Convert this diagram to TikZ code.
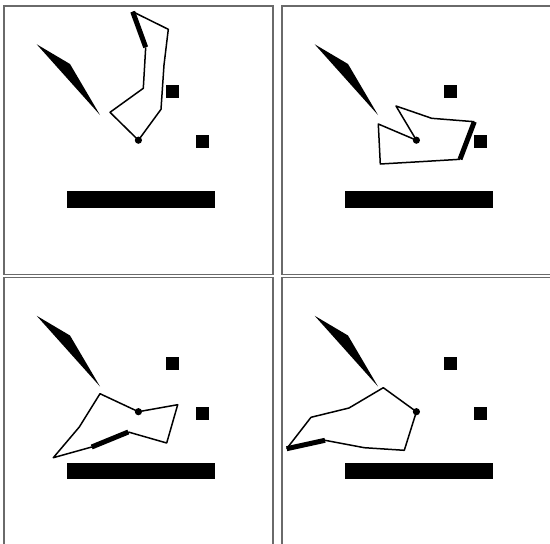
\documentclass[tikz,border=0pt]{standalone}
\usepackage{tikz}
\definecolor{FrameGray}{HTML}{6A6A6A}

\begin{document}
\begin{tikzpicture}[x=1pt,y=-1pt,
  panel/.style={draw=FrameGray,line width=1.3pt},
  block/.style={fill=black},
  link/.style={line width=1.5pt,line join=round},
  heavy/.style={line width=5pt},
  pivot/.style={fill=black}]
\useasboundingbox (0,0) rectangle (550,544);
\clip (0,0) rectangle (550,544);
\foreach \px/\py in {4/6,282/6,4/277.5,282/277.5}{
  \begin{scope}[shift={(\px,\py)}]
  \draw[panel] (0,0) rectangle (269,268.5);
  \fill[block] (32.7,38.3) -- (66,58) -- (96,109) -- cycle;
  \fill[block] (162,79) rectangle (175,92);
  \fill[block] (192,129) rectangle (205,142);
  \fill[block] (62.7,185) rectangle (211,201.7);
  \end{scope}
}
\coordinate (p1) at (138.4,140.2);
\coordinate (p2) at (416.4,140.2);
\coordinate (p3) at (138.4,411.7);
\coordinate (p4) at (416.4,411.7);
\draw[link] (p1) -- (110,112.3) -- (143.3,88.3) -- (145.7,47.3);
\draw[heavy] (145.7,47.3) -- (132.7,11.7);
\draw[link] (132.7,11.7) -- (168.3,29.3) -- (164,65) -- (161,109.3) -- (p1);
\draw[link] (p2) -- (396,106) -- (431.7,118.3) -- (474.3,121.7);
\draw[heavy] (474.3,121.7) -- (460,159.3);
\draw[link] (460,159.3) -- (420,161.7) -- (380.3,164) -- (378.3,124) -- (p2);
\draw[link] (p3) -- (100,393.7) -- (79.3,427) -- (53.3,457.7) -- (91.7,447);
\draw[heavy] (91.7,447) -- (128.3,432);
\draw[link] (128.3,432) -- (166.7,443) -- (177.7,404.7) -- (p3);
\draw[link] (p4) -- (383.3,387.7) -- (349,408) -- (311,417.3) -- (286.7,448.7);
\draw[heavy] (286.7,448.7) -- (325,440.3);
\draw[link] (325,440.3) -- (364.3,447.7) -- (404.3,450.3) -- (p4);
\fill[pivot] (p1) circle (3.6);
\fill[pivot] (p2) circle (3.6);
\fill[pivot] (p3) circle (3.6);
\fill[pivot] (p4) circle (3.6);
\end{tikzpicture}
\end{document}
